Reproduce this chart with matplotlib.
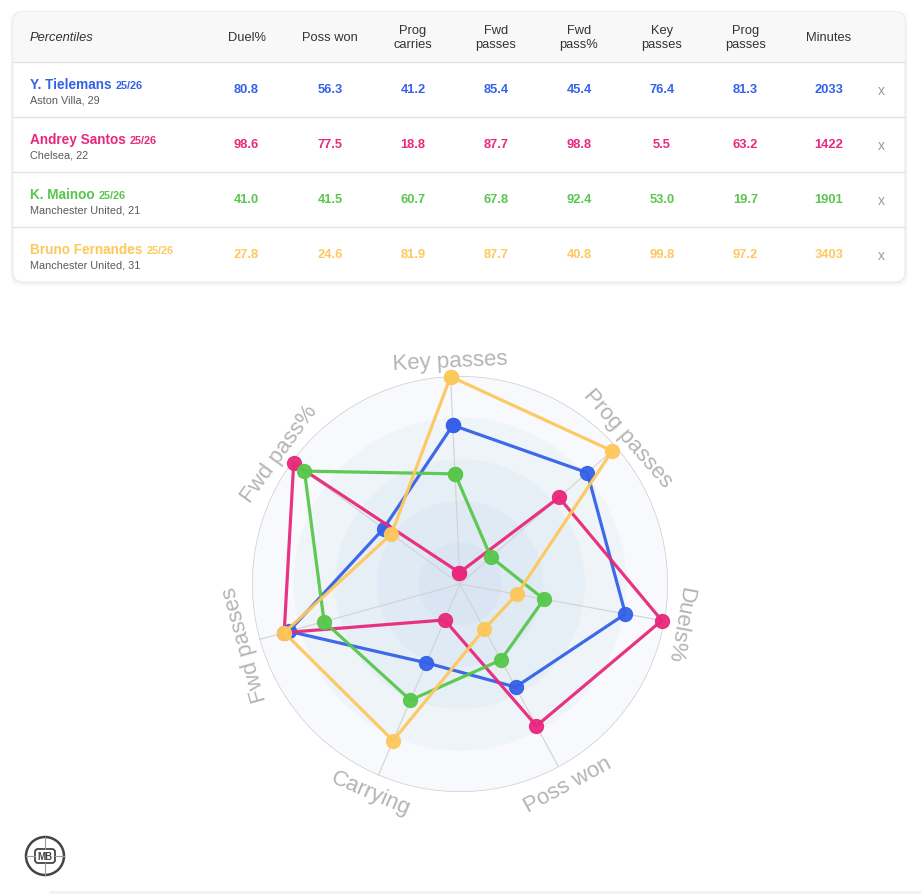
import numpy as np
import matplotlib
matplotlib.use('Agg')
import matplotlib.pyplot as plt
from matplotlib.patches import FancyBboxPatch, Rectangle, Circle
from matplotlib.font_manager import FontProperties

plt.rcParams['font.family'] = 'Liberation Sans'

# --- data ---------------------------------------------------------------
players = ['Y. Tielemans', 'Andrey Santos', 'K. Mainoo', 'Bruno Fernandes']
season = '25/26'
clubs = ['Aston Villa, 29', 'Chelsea, 22', 'Manchester United, 21',
         'Manchester United, 31']
colors = ['#3461e8', '#e8287c', '#58c74c', '#fdc85c']

duel_pct = [80.8, 98.6, 41.0, 27.8]
poss_won = [56.3, 77.5, 41.5, 24.6]
prog_carries = [41.2, 18.8, 60.7, 81.9]
fwd_passes = [85.4, 87.7, 67.8, 87.7]
fwd_pass_pct = [45.4, 98.8, 92.4, 40.8]
key_passes = [76.4, 5.5, 53.0, 99.8]
prog_passes = [81.3, 63.2, 19.7, 97.2]
minutes = [2033, 1422, 1901, 3403]

table_headers = ['Duel%', 'Poss won', 'Prog\ncarries', 'Fwd\npasses',
                 'Fwd\npass%', 'Key\npasses', 'Prog\npasses', 'Minutes']
table_cols = [duel_pct, poss_won, prog_carries, fwd_passes, fwd_pass_pct,
              key_passes, prog_passes, minutes]

radar_labels = ['Key passes', 'Prog passes', 'Duels%', 'Poss won',
                'Carrying', 'Fwd passes', 'Fwd pass%']
radar_cols = [key_passes, prog_passes, duel_pct, poss_won, prog_carries,
              fwd_passes, fwd_pass_pct]

W, H = 921, 895
fig = plt.figure(figsize=(W / 100, H / 100), dpi=100)
fig.patch.set_facecolor('white')

# pixel-space axes for the table and logo
bg = fig.add_axes([0, 0, 1, 1])
bg.set_xlim(0, W)
bg.set_ylim(H, 0)
bg.axis('off')

# card with soft shadow
for pad, a in [(6, 0.015), (4, 0.02), (2, 0.03)]:
    bg.add_patch(FancyBboxPatch((13 - pad / 2, 13 - pad / 4), 892 + pad, 270 + pad,
                                boxstyle='round,pad=0,rounding_size=12',
                                fc='black', ec='none', alpha=a))
card = FancyBboxPatch((13, 13), 892, 270, boxstyle='round,pad=0,rounding_size=10',
                      fc='white', ec='#ececec', lw=0.8)
bg.add_patch(card)
hdr = Rectangle((13, 13), 892, 50, fc='#f8f8f8', ec='none')
bg.add_patch(hdr)
hdr.set_clip_path(card)
for y in [63, 118, 173, 228]:
    bg.plot([13, 905], [y, y], color='#e2e2e2', lw=1)

col_x = [246.5, 330, 413, 496, 579, 662, 745.5, 829]
bg.text(30, 38, 'Percentiles', style='italic', fontsize=9.3, color='#333333',
        va='center', ha='left')
for x, h in zip(col_x, table_headers):
    bg.text(x, 38, h, fontsize=9.3, color='#333333', ha='center', va='center',
            linespacing=1.15)

renderer = fig.canvas.get_renderer()


def text_w(s, prop):
    w, _, _ = renderer.get_text_width_height_descent(s + 'I', prop, ismath=False)
    w0, _, _ = renderer.get_text_width_height_descent('I', prop, ismath=False)
    return w - w0


name_prop = FontProperties(family='Liberation Sans', weight='bold', size=9.8)
seas_prop = FontProperties(family='Liberation Sans', weight='bold', size=7.8)
for i, (p, c, col) in enumerate(zip(players, clubs, colors)):
    y0 = 63 + 55 * i
    bg.text(30, y0 + 26, p, fontproperties=name_prop, color=col, va='baseline')
    bg.text(30 + text_w(p, name_prop) + 4, y0 + 26, season,
            fontproperties=seas_prop, color=col, va='baseline')
    bg.text(30, y0 + 40, c, fontsize=7.8, color='#5a5a5a', va='baseline')
    for x, vals in zip(col_x, table_cols):
        v = vals[i]
        s = f'{v:.1f}' if isinstance(v, float) else str(v)
        bg.text(x, y0 + 27, s, fontsize=9.3, fontweight='bold', color=col,
                ha='center', va='center')
    bg.text(881, y0 + 28, 'x', fontsize=10, color='#9a9a9a', ha='center',
            va='center')

# logo
bg.add_patch(Circle((45, 857), 19, fill=False, ec='#444444', lw=1.8))
bg.add_patch(FancyBboxPatch((35, 850), 20, 14, boxstyle='round,pad=0,rounding_size=3',
                            fill=False, ec='#444444', lw=1.3))
for xs, ys in [([26, 35], [857, 857]), ([55, 64], [857, 857]),
               ([45, 45], [838, 850]), ([45, 45], [864, 876])]:
    bg.plot(xs, ys, color='#999999', lw=0.8)
bg.text(45, 857.5, 'MB', fontsize=7, fontweight='bold', color='#444444',
        ha='center', va='center')
bg.plot([50, W], [893, 893], color='#f2f2f2', lw=2)

# --- radar --------------------------------------------------------------
cx, cy, R = 460, 585, 208
ax = fig.add_axes([(cx - R) / W, (H - cy - R) / H, 2 * R / W, 2 * R / H],
                  projection='polar')
offset = np.deg2rad(92.6)
ax.set_theta_offset(offset)
ax.set_theta_direction(-1)
ax.set_ylim(0, 100)
ax.set_xticks([])
ax.set_yticks([])
ax.grid(False)
ax.spines['polar'].set_visible(False)
ax.patch.set_alpha(0)

n = len(radar_labels)
angles = np.arange(n) * 2 * np.pi / n
th = np.linspace(0, 2 * np.pi, 361)
for r in [100, 80, 60, 40, 20]:
    ax.fill(th, np.full_like(th, r), color='#4a86c8', alpha=0.045, lw=0)
ax.plot(th, np.full_like(th, 100), color='#cdcdcd', lw=1)
for a in angles:
    ax.plot([a, a], [0, 100], color='#d2d2d2', lw=0.8)

for i, col in enumerate(colors):
    vals = [c[i] for c in radar_cols]
    ax.plot(np.append(angles, angles[0]), vals + vals[:1], color=col, lw=2.3,
            marker='o', ms=10, mfc=col, mec=col, alpha=0.95, clip_on=False)

# axis labels, rotated along the circle
for a, lab in zip(angles, radar_labels):
    phi = offset - a
    bottom = np.sin(phi) < -0.5
    rot = np.rad2deg(phi) + (90 if bottom else -90)
    rr = 227 if bottom else 223
    ax.text(a, rr / R * 100, lab, rotation=rot, rotation_mode='anchor',
            ha='center', va='center', fontsize=16, color='#b4b4b4',
            clip_on=False)

fig.savefig('out.png', dpi=100, facecolor='white')
